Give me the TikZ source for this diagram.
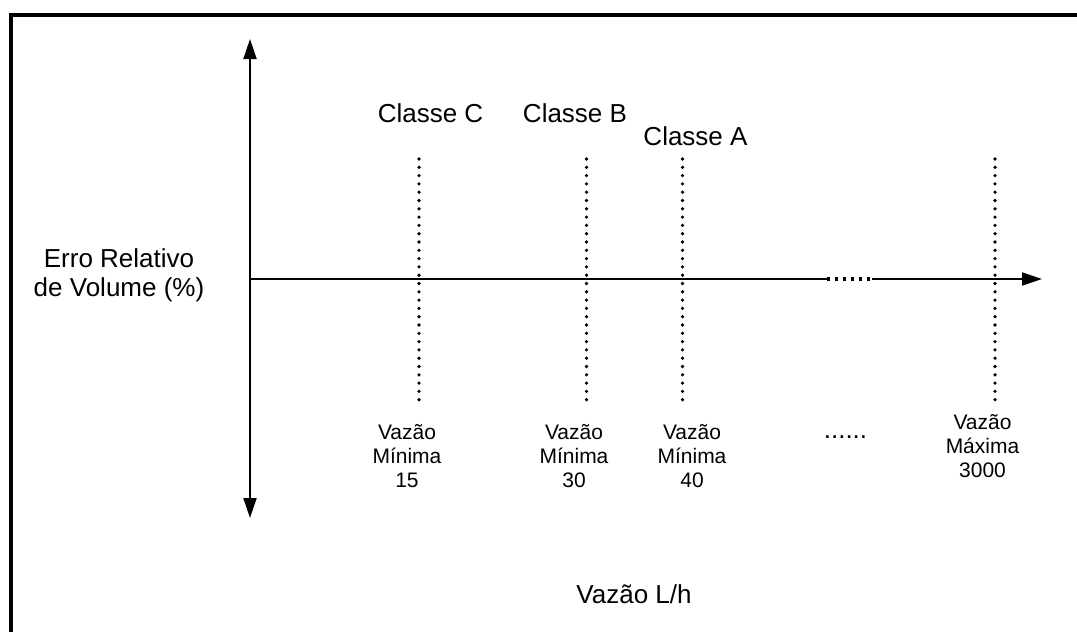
\documentclass[tikz,border=0pt]{standalone}
\usepackage{fontspec}
\setmainfont{Liberation Sans}
\usetikzlibrary{arrows.meta}
\tikzset{
      axisline/.style={
        line width=1pt,
        draw=black
      },
      guideline/.style={
        line width=1.8pt,
        line cap=round,
        dash pattern=on 0pt off 4.15pt
      },
      gapline/.style={
        line width=1.6pt,
        dash pattern=on 1.6pt off 2.4pt
      },
      biglabel/.style={
        font=\fontsize{13}{14.75}\selectfont,
        align=center,
        inner sep=0pt,
        anchor=base
      },
      flowlabel/.style={
        font=\fontsize{10.5}{12}\selectfont,
        align=center,
        inner sep=0pt,
        anchor=base
      }
    }

\begin{document}
\begin{tikzpicture}[x=0.5pt,y=-0.5pt, >={Triangle[length=10pt,width=6.5pt]}]
    \useasboundingbox (0,0) rectangle (1077,632);
    % frame, open on the right and at the bottom
    \draw[line width=2pt] (11,650) |- (1090,15);

    % axes
    \coordinate (ytop) at (250,39);
    \coordinate (ybot) at (250,518);
    \coordinate (orig) at (250,279);
    \coordinate (gapl) at (827,279);
    \coordinate (gapr) at (872,279);
    \coordinate (xend) at (1042,279);
    \draw[axisline, <->] (ytop) -- (ybot);
    \draw[axisline] (orig) -- (gapl);
    \draw[gapline] (gapl) -- (gapr);
    \draw[axisline, ->] (gapr) -- (xend);

    % dotted lines for each minimum flow and the maximum flow
    \coordinate (cTop) at (419,159);   \coordinate (cBot) at (419,402);
    \coordinate (bTop) at (586.5,159); \coordinate (bBot) at (586.5,402);
    \coordinate (aTop) at (682.5,159); \coordinate (aBot) at (682.5,402);
    \coordinate (mTop) at (995,159);   \coordinate (mBot) at (995,402);
    \draw[guideline] (cTop) -- (cBot);
    \draw[guideline] (bTop) -- (bBot);
    \draw[guideline] (aTop) -- (aBot);
    \draw[guideline] (mTop) -- (mBot);

    % labels (multi-line nodes sit on the baseline of their last line)
    \node[biglabel] (ylab) at (119,296.5) {Erro Relativo\\de Volume (\%)};
    \node[biglabel] (xlab) at (634,603) {Vazão L/h};
    \node[biglabel] (clsC) at (430.5,122) {Classe C};
    \node[biglabel] (clsB) at (575,122) {Classe B};
    \node[biglabel] (clsA) at (695.5,145) {Classe A};

    \node[flowlabel] (minC) at (407,487.5) {Vazão\\Mínima\\15};
    \node[flowlabel] (minB) at (574,487.5) {Vazão\\Mínima\\30};
    \node[flowlabel] (minA) at (692,487.5) {Vazão\\Mínima\\40};
    \node[biglabel] (more) at (845.5,438) {......};
    \node[flowlabel] (maxQ) at (982.5,477.5) {Vazão\\Máxima\\3000};
    \end{tikzpicture}
\end{document}
